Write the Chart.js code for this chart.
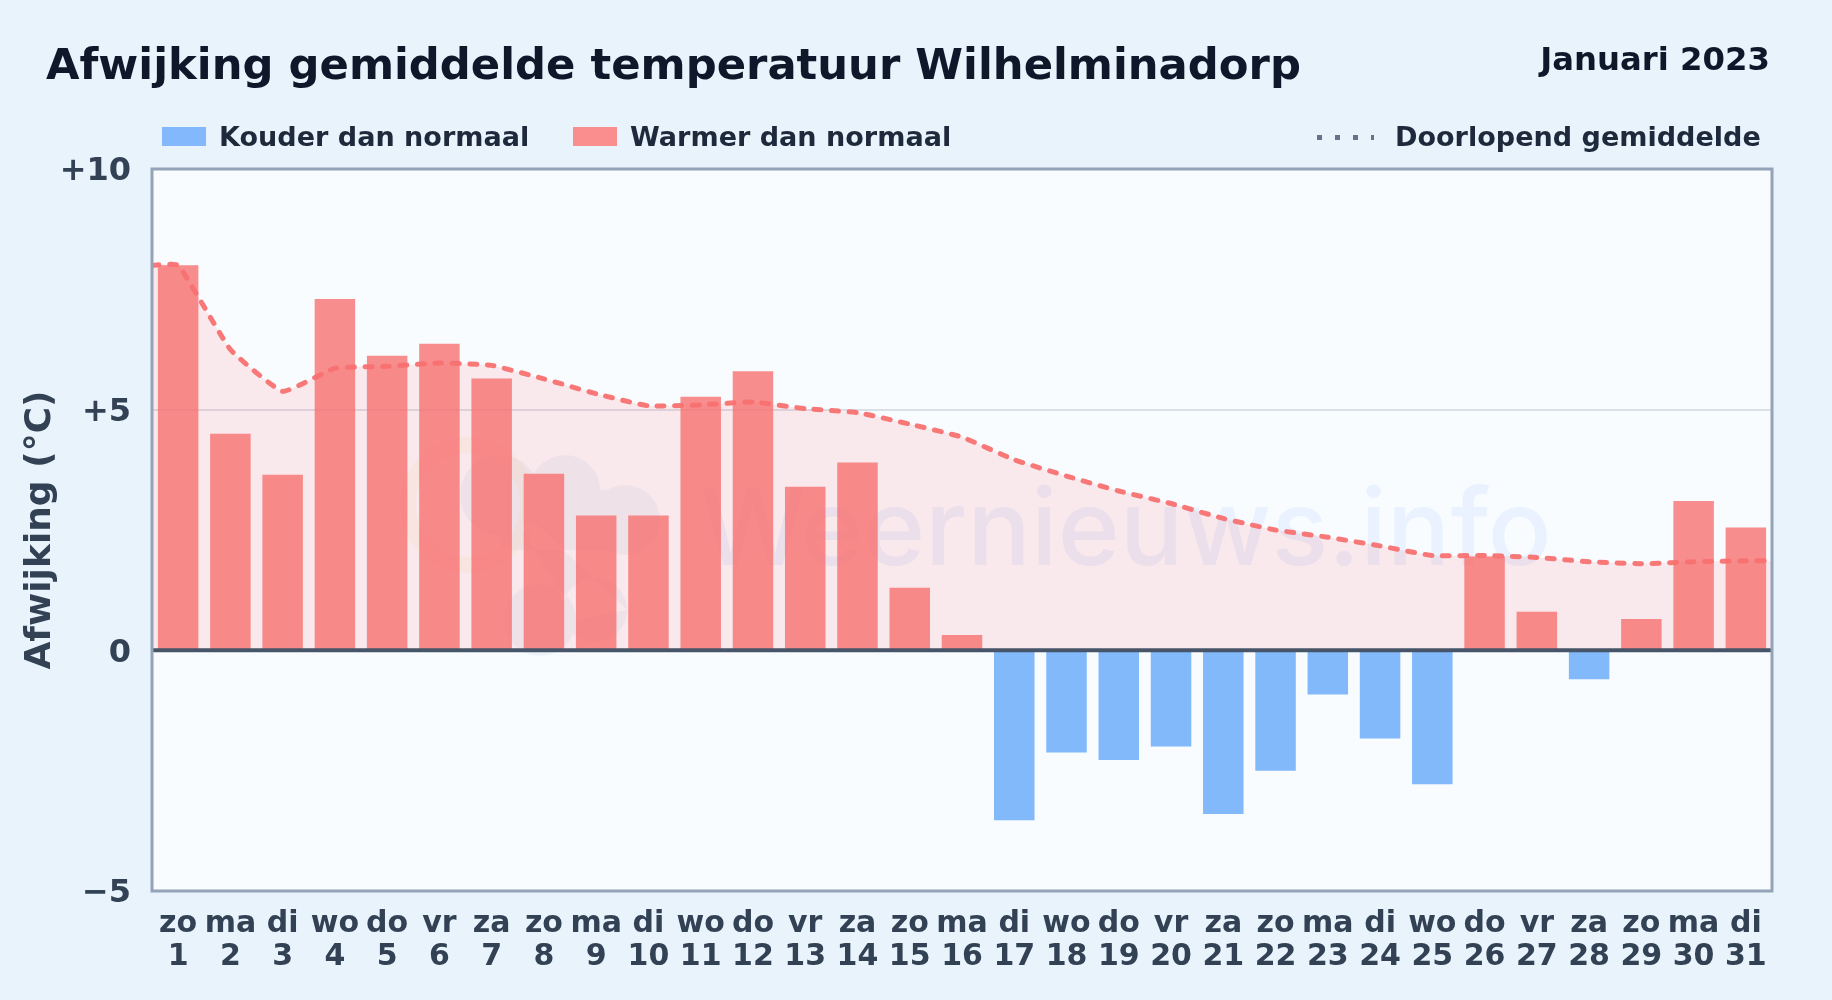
<!DOCTYPE html>
<html lang="nl">
<head>
<meta charset="utf-8">
<title>Afwijking gemiddelde temperatuur Wilhelminadorp</title>
<script src="https://cdn.jsdelivr.net/npm/chart.js@4/dist/chart.umd.min.js"></script>
<style>
  html, body { margin: 0; padding: 0; }
  body {
    width: 1832px; height: 1000px; overflow: hidden; position: relative;
    background: #e8f3fc;
    font-family: "DejaVu Sans", sans-serif; font-weight: bold;
  }
  canvas { position: absolute; left: 0; top: 0; }
  .txt { position: absolute; white-space: nowrap; line-height: 1; }
  #title { left: 46px; top: 43px; font-size: 43.3px; color: #0f172a; }
  #period { right: 62px; top: 43px; font-size: 32.3px; color: #0f172a; }
  .legend { top: 122.8px; font-size: 27.05px; color: #1e293b; }
  .swatch { position: absolute; top: 127px; height: 19px; width: 44px; }
  #dots {
    position: absolute; left: 1317px; top: 135px; width: 57px; height: 5px;
    background: repeating-linear-gradient(90deg, #64748b 0 5px, transparent 5px 18px);
  }
</style>
</head>
<body>
<canvas id="chart" width="1832" height="1000"></canvas>
<div class="txt" id="title">Afwijking gemiddelde temperatuur Wilhelminadorp</div>
<div class="txt" id="period">Januari 2023</div>
<div class="swatch" style="left:162px;background:#83b8fc"></div>
<div class="txt legend" style="left:219px">Kouder dan normaal</div>
<div class="swatch" style="left:573px;background:#fa8e8f"></div>
<div class="txt legend" style="left:630px">Warmer dan normaal</div>
<div id="dots"></div>
<div class="txt legend" style="left:1395px">Doorlopend gemiddelde</div>
<script>
const dayNames = ['zo', 'ma', 'di', 'wo', 'do', 'vr', 'za', 'zo', 'ma', 'di', 'wo', 'do', 'vr', 'za', 'zo', 'ma',
  'di', 'wo', 'do', 'vr', 'za', 'zo', 'ma', 'di', 'wo', 'do', 'vr', 'za', 'zo', 'ma', 'di'];
const dayNumbers = [1, 2, 3, 4, 5, 6, 7, 8, 9, 10, 11, 12, 13, 14, 15, 16,
  17, 18, 19, 20, 21, 22, 23, 24, 25, 26, 27, 28, 29, 30, 31];
const deviations = [8.0, 4.5, 3.65, 7.3, 6.12, 6.37, 5.65, 3.67, 2.8, 2.8, 5.27, 5.8, 3.4, 3.9, 1.3, 0.32,
  -3.53, -2.12, -2.28, -2.0, -3.4, -2.5, -0.92, -1.83, -2.78, 1.95, 0.8, -0.6, 0.65, 3.1, 2.55];
const runningMean = [8.0, 6.25, 5.38, 5.86, 5.9, 5.97, 5.92, 5.64, 5.33, 5.08, 5.1, 5.16, 5.02, 4.94, 4.7, 4.43,
  3.96, 3.62, 3.31, 3.05, 2.74, 2.5, 2.35, 2.17, 1.97, 1.97, 1.93, 1.84, 1.8, 1.84, 1.86];
const yTickLabels = { '10': '+10', '5': '+5', '0': '0', '-5': '\u22125' };

// the mean line runs on to both edges of the plot
const linePoints = [{ x: 0.5, y: runningMean[0] }]
  .concat(dayNumbers.map((d, i) => ({ x: d, y: runningMean[i] })))
  .concat([{ x: 31.5, y: runningMean[30] }]);

const plotBackground = {
  id: 'plotBackground',
  beforeDraw(chart) {
    const { ctx, chartArea: a } = chart;
    ctx.save();
    ctx.fillStyle = '#f8fcff';
    ctx.fillRect(a.left, a.top, a.width, a.height);

    // watermark: sun, two clouds and the site name
    ctx.strokeStyle = 'rgba(250, 204, 21, 0.06)';
    ctx.lineWidth = 16;
    ctx.beginPath();
    ctx.arc(468, 505, 60, 0, Math.PI * 2);
    ctx.stroke();

    ctx.fillStyle = 'rgba(71, 120, 190, 0.06)';
    ctx.beginPath();
    ctx.arc(500, 495, 40, 0, Math.PI * 2);
    ctx.arc(565, 490, 35, 0, Math.PI * 2);
    ctx.arc(625, 520, 35, 0, Math.PI * 2);
    ctx.rect(500, 490, 125, 60);
    ctx.arc(540, 620, 36, 0, Math.PI * 2);
    ctx.arc(595, 610, 32, 0, Math.PI * 2);
    ctx.fill();

    ctx.fillStyle = 'rgba(59, 130, 246, 0.08)';
    ctx.font = '500 105.8px Inter, sans-serif';
    ctx.textAlign = 'left';
    ctx.textBaseline = 'alphabetic';
    ctx.fillText('Weernieuws.info', 700, 565);
    ctx.restore();
  }
};

const plotFrame = {
  id: 'plotFrame',
  afterDatasetsDraw(chart) {
    const { ctx, chartArea: a, scales } = chart;
    ctx.save();
    const zero = scales.y.getPixelForValue(0);
    ctx.strokeStyle = '#475569';
    ctx.lineWidth = 4;
    ctx.beginPath();
    ctx.moveTo(a.left, zero);
    ctx.lineTo(a.right, zero);
    ctx.stroke();
    ctx.strokeStyle = '#94a3b8';
    ctx.lineWidth = 3;
    ctx.strokeRect(a.left, a.top, a.width, a.height);
    ctx.restore();
  }
};

Chart.defaults.font.family = '"DejaVu Sans", sans-serif';
Chart.defaults.font.weight = 'bold';

new Chart(document.getElementById('chart'), {
  type: 'bar',
  plugins: [plotBackground, plotFrame],
  data: {
    labels: dayNames.map((name, i) => [name, String(dayNumbers[i])]),
    datasets: [
      {
        type: 'line',
        xAxisID: 'x2',
        data: linePoints,
        order: 3,
        borderWidth: 0,
        pointRadius: 0,
        tension: 0.12,
        fill: 'origin',
        backgroundColor: 'rgba(255, 100, 110, 0.13)'
      },
      {
        data: deviations,
        order: 2,
        grouped: false,
        barPercentage: 0.775,
        categoryPercentage: 1,
        backgroundColor: deviations.map(v => v < 0 ? 'rgba(96, 165, 250, 0.78)' : 'rgba(248, 113, 113, 0.8)')
      },
      {
        type: 'line',
        xAxisID: 'x2',
        data: linePoints,
        order: 1,
        borderColor: 'rgba(248, 113, 113, 0.95)',
        borderWidth: 5,
        borderDash: [7, 10.5],
        borderCapStyle: 'round',
        pointRadius: 0,
        tension: 0.12,
        fill: false
      }
    ]
  },
  options: {
    responsive: false,
    animation: false,
    layout: { padding: { left: 0, top: 169, right: 60, bottom: 0 } },
    plugins: { legend: { display: false }, tooltip: { enabled: false } },
    scales: {
      x: {
        grid: { display: false },
        border: { display: false },
        afterFit: s => { s.height = 109; },
        ticks: {
          color: '#334155',
          font: { size: 30, lineHeight: 1.12 },
          padding: 8,
          autoSkip: false,
          maxRotation: 0
        }
      },
      x2: { type: 'linear', display: false, min: 0.5, max: 31.5, offset: false },
      y: {
        min: -5,
        max: 10,
        afterFit: s => { s.width = 152; },
        grid: {
          color: ctx => ctx.tick && ctx.tick.value === 5 ? 'rgba(100, 116, 139, 0.2)' : 'transparent',
          lineWidth: 2,
          drawTicks: false
        },
        border: { display: false },
        ticks: {
          stepSize: 5,
          color: '#334155',
          font: { size: 32 },
          padding: 21,
          labelOffset: 3,
          callback: v => yTickLabels[v]
        },
        title: {
          display: true,
          text: 'Afwijking (\u00b0C)',
          color: '#334155',
          font: { size: 36 },
          padding: { top: 19, bottom: 0 }
        }
      }
    }
  }
});
</script>
</body>
</html>
